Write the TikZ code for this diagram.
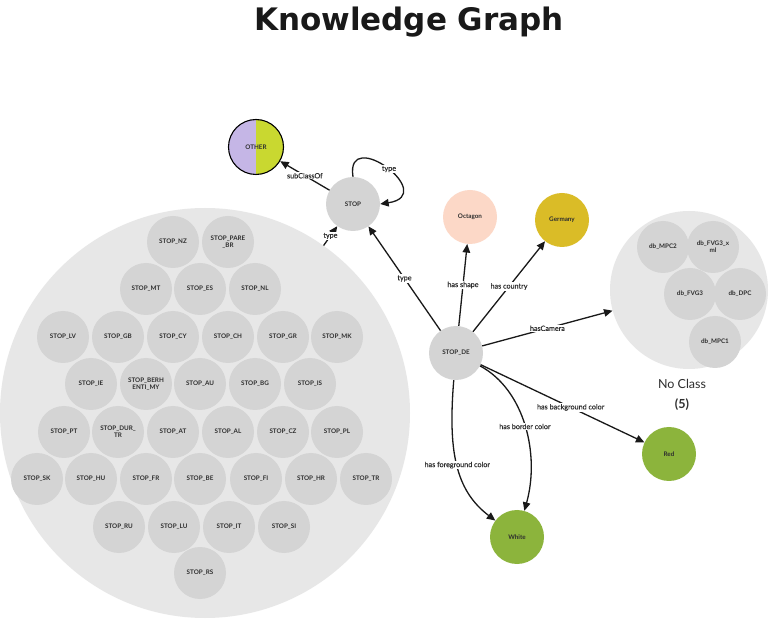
\documentclass[tikz,border=0pt]{standalone}
\usepackage{fontspec}
\usetikzlibrary{arrows.meta}
\newfontfamily\labfont{Lato}
\newfontfamily\edgefont{Lato}[FakeBold=0.35]
\newfontfamily\ttlfont{DejaVu Sans}

\definecolor{nodegrey}{HTML}{D4D4D4}
\definecolor{biggrey}{HTML}{E7E7E7}
\definecolor{txt}{HTML}{2E2E2E}
\definecolor{lav}{HTML}{C5B6E6}
\definecolor{limeg}{HTML}{C9D830}
\definecolor{peach}{HTML}{FCD8C7}
\definecolor{mustard}{HTML}{DABC27}
\definecolor{leaf}{HTML}{8CB43C}

\tikzset{
  ent/.style={circle, fill=nodegrey, minimum size=52pt, inner sep=0pt,
    align=center, text=txt, font=\labfont\bfseries\fontsize{6.3}{7.3}\selectfont},
  grp/.style={circle, fill=biggrey, inner sep=0pt},
  elab/.style={fill=white, inner sep=1pt, text=txt,
    font=\edgefont\fontsize{7.2}{8}\selectfont},
  rel/.style={line width=1.3pt, draw=black!90, -{Triangle[length=8.5pt,width=7.5pt]}},
}

\begin{document}
\begin{tikzpicture}[x=1pt,y=-1pt]
\useasboundingbox (0,0) rectangle (772,620);
\fill[white] (0,0) rectangle (772,620);

% title
\node[text=black!90, font=\ttlfont\bfseries\fontsize{31}{31}\selectfont] (title) at (409,22) {Knowledge Graph};

% group circles
\begin{scope}
\clip (0,0) rectangle (772,620);
\node[grp, minimum size=410pt] (bigc) at (205,413) {};
\end{scope}
\node[grp, minimum size=158pt] (nocls) at (689,290) {};

% STOP instances (hexagonal packing)
\node[ent] (nz) at (173,242) {STOP\_NZ};
\node[ent] (parebr) at (228,242) {STOP\_PARE\\\_BR};
\node[ent] (mt) at (146,289) {STOP\_MT};
\node[ent] (es) at (200,289) {STOP\_ES};
\node[ent] (nl) at (255,289) {STOP\_NL};
\node[ent] (lv) at (63,337) {STOP\_LV};
\node[ent] (gb) at (118,337) {STOP\_GB};
\node[ent] (cy) at (173,337) {STOP\_CY};
\node[ent] (ch) at (228,337) {STOP\_CH};
\node[ent] (gr) at (283,337) {STOP\_GR};
\node[ent] (mk) at (337,337) {STOP\_MK};
\node[ent] (ie) at (91,384) {STOP\_IE};
\node[ent] (berh) at (146,384) {STOP\_BERH\\ENTI\_MY};
\node[ent] (au) at (200,384) {STOP\_AU};
\node[ent] (bg) at (255,384) {STOP\_BG};
\node[ent] (is) at (310,384) {STOP\_IS};
\node[ent] (pt) at (64,432) {STOP\_PT};
\node[ent] (durtr) at (118,432) {STOP\_DUR\_\\TR};
\node[ent] (at) at (173,432) {STOP\_AT};
\node[ent] (al) at (228,432) {STOP\_AL};
\node[ent] (cz) at (283,432) {STOP\_CZ};
\node[ent] (pl) at (337,432) {STOP\_PL};
\node[ent] (sk) at (37,479) {STOP\_SK};
\node[ent] (hu) at (91,479) {STOP\_HU};
\node[ent] (fr) at (146,479) {STOP\_FR};
\node[ent] (be) at (200,479) {STOP\_BE};
\node[ent] (fi) at (256,479) {STOP\_FI};
\node[ent] (hr) at (311,479) {STOP\_HR};
\node[ent] (tr) at (366,479) {STOP\_TR};
\node[ent] (ru) at (119,527) {STOP\_RU};
\node[ent] (lu) at (174,527) {STOP\_LU};
\node[ent] (it) at (229,527) {STOP\_IT};
\node[ent] (si) at (284,527) {STOP\_SI};
\node[ent] (rs) at (200,573) {STOP\_RS};

% unclassified cameras
\node[ent] (mpc2) at (663,247) {db\_MPC2};
\node[ent] (fvgxml) at (713,247) {db\_FVG3\_x\\ml};
\node[ent] (fvg3) at (690,294) {db\_FVG3};
\node[ent] (dpc) at (740,294) {db\_DPC};
\node[ent] (mpc1) at (715,342) {db\_MPC1};
\node[text=txt, font=\labfont\fontsize{12.5}{13}\selectfont] (nocname) at (682,384) {No Class};
\node[text=txt, font=\labfont\bfseries\fontsize{12.5}{13}\selectfont] (noccount) at (682,405) {(5)};

% classes and values
\node[ent, minimum size=55pt, draw=black, line width=1.1pt,
  path picture={
    \fill[lav] (path picture bounding box.south west) rectangle (path picture bounding box.north);
    \fill[limeg] (path picture bounding box.north) rectangle (path picture bounding box.south east);
  }] (other) at (256,147) {OTHER};
\node[ent, minimum size=54pt] (stop) at (353,204) {STOP};
\node[ent, minimum size=54pt] (sde) at (456,353) {STOP\_DE};
\node[ent, fill=peach, minimum size=54pt] (oct) at (470,217) {Octagon};
\node[ent, fill=mustard, minimum size=54pt] (ger) at (562,220) {Germany};
\node[ent, fill=leaf, minimum size=54pt] (red) at (669,454) {Red};
\node[ent, fill=leaf, minimum size=54pt] (white) at (517,537) {White};

% relations
\draw[rel] (stop) -- node[elab] (l1) {subClassOf} (other);
\draw[rel] (stop.north) .. controls (345,125) and (440,195) .. (stop.east);
\node[elab] (l2) at (389,169) {type};
\draw[rel] (bigc) -- node[elab, pos=0.5] (l3) {type} (stop);
\draw[rel] (sde) -- node[elab] (l4) {type} (stop);
\draw[rel] (sde) -- node[elab] (l5) {has shape} (oct);
\draw[rel] (sde) -- node[elab] (l6) {has country} (ger);
\draw[rel] (sde) -- node[elab, pos=0.5] (l7) {hasCamera} (nocls);
\draw[rel] (sde) -- node[elab, pos=0.55] (l8) {has background color} (red);
\draw[rel] (sde) .. controls (525,390) and (540,455) .. node[elab, pos=0.5] (l9) {has border color} (white);
\draw[rel] (sde) .. controls (448,450) and (455,490) .. node[elab, pos=0.5] (l10) {has foreground color} (white);
\end{tikzpicture}
\end{document}
